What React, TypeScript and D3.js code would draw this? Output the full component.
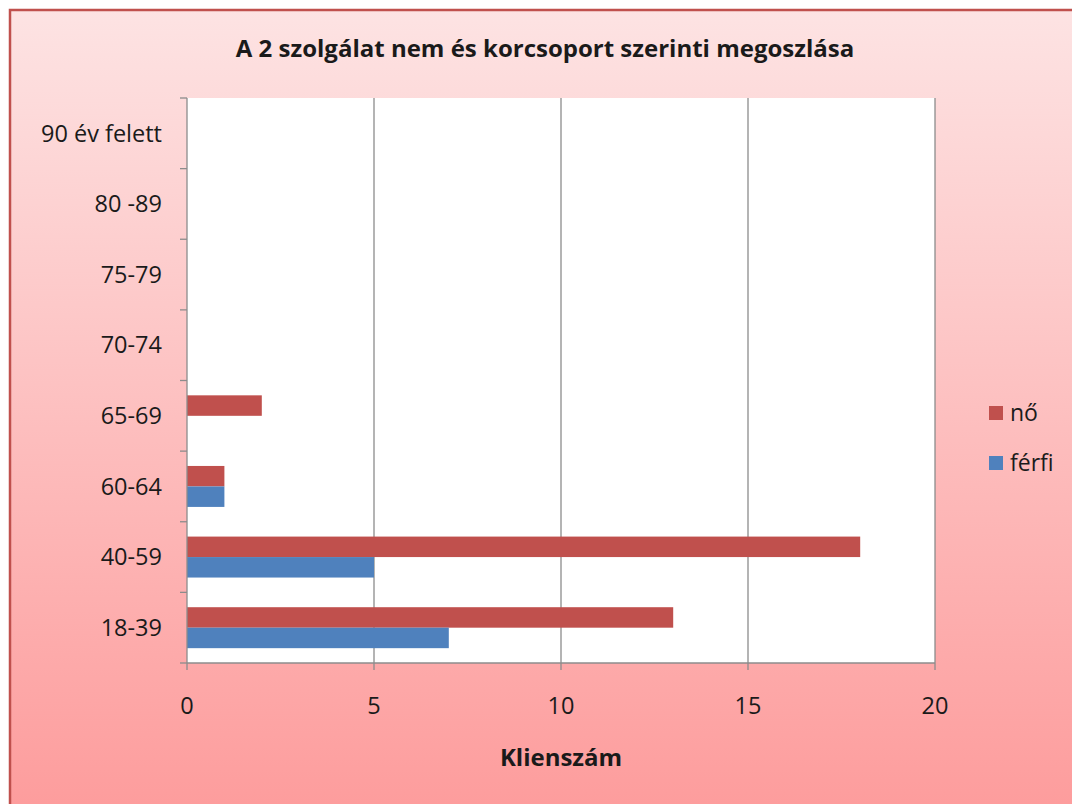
import React, { useEffect, useRef } from 'react';
import * as d3 from 'd3';

const categories = ['18-39', '40-59', '60-64', '65-69', '70-74', '75-79', '80 -89', '90 év felett'];
const noValues = [13, 18, 1, 2, 0, 0, 0, 0];
const ferfiValues = [7, 5, 1, 0, 0, 0, 0, 0];
const xTicks = [0, 5, 10, 15, 20];
const seriesNames = ['nő', 'férfi'];
const seriesColors = ['#c0504d', '#4f81bd'];

const FONT = 'Open Sans, Lato, sans-serif';

const App: React.FC = () => {
  const svgRef = useRef<SVGSVGElement>(null);

  useEffect(() => {
    if (!svgRef.current) return;
    const width = 1072;
    const height = 804;
    const margin = { top: 98, right: 137, bottom: 141, left: 187 };

    const svg = d3.select(svgRef.current);
    svg.selectAll('*').remove();

    const defs = svg.append('defs');
    const grad = defs.append('linearGradient')
      .attr('id', 'bg-grad')
      .attr('x1', '0%').attr('y1', '0%')
      .attr('x2', '0%').attr('y2', '100%');
    grad.append('stop').attr('offset', '0%').attr('stop-color', '#fde3e3');
    grad.append('stop').attr('offset', '100%').attr('stop-color', '#fd9c9c');

    // chart frame
    svg.append('rect')
      .attr('x', 10).attr('y', 10)
      .attr('width', width).attr('height', height)
      .attr('fill', 'url(#bg-grad)')
      .attr('stroke', '#c0504d')
      .attr('stroke-width', 2.5);

    const x = d3.scaleLinear()
      .domain([0, 20])
      .range([margin.left, width - margin.right]);

    const y = d3.scaleBand<string>()
      .domain(categories)
      .range([height - margin.bottom, margin.top])
      .paddingInner(0.42)
      .paddingOuter(0.21);

    const step = y.step();
    const bandTop = (c: string) => (y(c) as number) - y.paddingInner() * step / 2;

    const sub = d3.scaleBand<string>()
      .domain(seriesNames)
      .range([0, y.bandwidth()]);

    // plot area
    svg.append('rect')
      .attr('x', x(0)).attr('y', margin.top)
      .attr('width', x(20) - x(0))
      .attr('height', height - margin.bottom - margin.top)
      .attr('fill', '#ffffff');

    // gridlines
    svg.append('g')
      .selectAll('line')
      .data(xTicks.slice(1))
      .join('line')
      .attr('x1', d => x(d)).attr('x2', d => x(d))
      .attr('y1', margin.top).attr('y2', height - margin.bottom)
      .attr('stroke', '#8c8c8c')
      .attr('stroke-width', 1.3);

    // bars
    const series = [noValues, ferfiValues];
    series.forEach((vals, si) => {
      svg.append('g')
        .selectAll('rect')
        .data(categories.map((c, i) => ({ c, v: vals[i] })).filter(d => d.v > 0))
        .join('rect')
        .attr('x', x(0))
        .attr('y', d => (y(d.c) as number) + (sub(seriesNames[si]) as number))
        .attr('width', d => x(d.v) - x(0))
        .attr('height', sub.bandwidth())
        .attr('fill', seriesColors[si]);
    });

    // axes
    const axisColor = '#8c8c8c';
    svg.append('line')
      .attr('x1', x(0)).attr('x2', x(0))
      .attr('y1', margin.top).attr('y2', height - margin.bottom)
      .attr('stroke', axisColor).attr('stroke-width', 1.3);
    svg.append('line')
      .attr('x1', x(0)).attr('x2', x(20))
      .attr('y1', height - margin.bottom).attr('y2', height - margin.bottom)
      .attr('stroke', axisColor).attr('stroke-width', 1.3);

    // y tick marks at band boundaries
    const yBounds = categories.map(c => bandTop(c)).concat([height - margin.bottom]);
    svg.append('g')
      .selectAll('line')
      .data(yBounds)
      .join('line')
      .attr('x1', x(0) - 7).attr('x2', x(0))
      .attr('y1', d => d).attr('y2', d => d)
      .attr('stroke', axisColor).attr('stroke-width', 1.3);

    // x tick marks
    svg.append('g')
      .selectAll('line')
      .data(xTicks)
      .join('line')
      .attr('x1', d => x(d)).attr('x2', d => x(d))
      .attr('y1', height - margin.bottom).attr('y2', height - margin.bottom + 7)
      .attr('stroke', axisColor).attr('stroke-width', 1.3);

    // y labels
    svg.append('g')
      .selectAll('text')
      .data(categories)
      .join('text')
      .attr('x', 162)
      .attr('y', c => (y(c) as number) + y.bandwidth() / 2)
      .attr('dy', '0.35em')
      .attr('text-anchor', 'end')
      .attr('font-family', FONT)
      .attr('font-size', 23.5)
      .attr('fill', '#1a1a1a')
      .text(c => c);

    // x labels
    svg.append('g')
      .selectAll('text')
      .data(xTicks)
      .join('text')
      .attr('x', d => x(d))
      .attr('y', 714)
      .attr('text-anchor', 'middle')
      .attr('font-family', FONT)
      .attr('font-size', 23.5)
      .attr('fill', '#1a1a1a')
      .text(d => d);

    // title
    svg.append('text')
      .attr('x', 545).attr('y', 57)
      .attr('text-anchor', 'middle')
      .attr('font-family', FONT)
      .attr('font-weight', 'bold')
      .attr('font-size', 24)
      .attr('fill', '#1a1a1a')
      .text('A 2 szolgálat nem és korcsoport szerinti megoszlása');

    // axis title
    svg.append('text')
      .attr('x', 561).attr('y', 766)
      .attr('text-anchor', 'middle')
      .attr('font-family', FONT)
      .attr('font-weight', 'bold')
      .attr('font-size', 24)
      .attr('fill', '#1a1a1a')
      .text('Klienszám');

    // legend
    const legend = svg.append('g');
    seriesNames.forEach((name, i) => {
      const ly = 413 + i * 50;
      legend.append('rect')
        .attr('x', 989).attr('y', ly - 7)
        .attr('width', 14).attr('height', 14)
        .attr('fill', seriesColors[i]);
      legend.append('text')
        .attr('x', 1010).attr('y', ly)
        .attr('dy', '0.35em')
        .attr('font-family', FONT)
        .attr('font-size', 23)
        .attr('fill', '#1a1a1a')
        .text(name);
    });
  }, []);

  return (
    <div style={{ position: 'absolute', left: 0, top: 0, width: 1072, height: 804, overflow: 'hidden' }}>
      <svg ref={svgRef} width={1072} height={804} style={{ display: 'block' }} />
    </div>
  );
};

export default App;
